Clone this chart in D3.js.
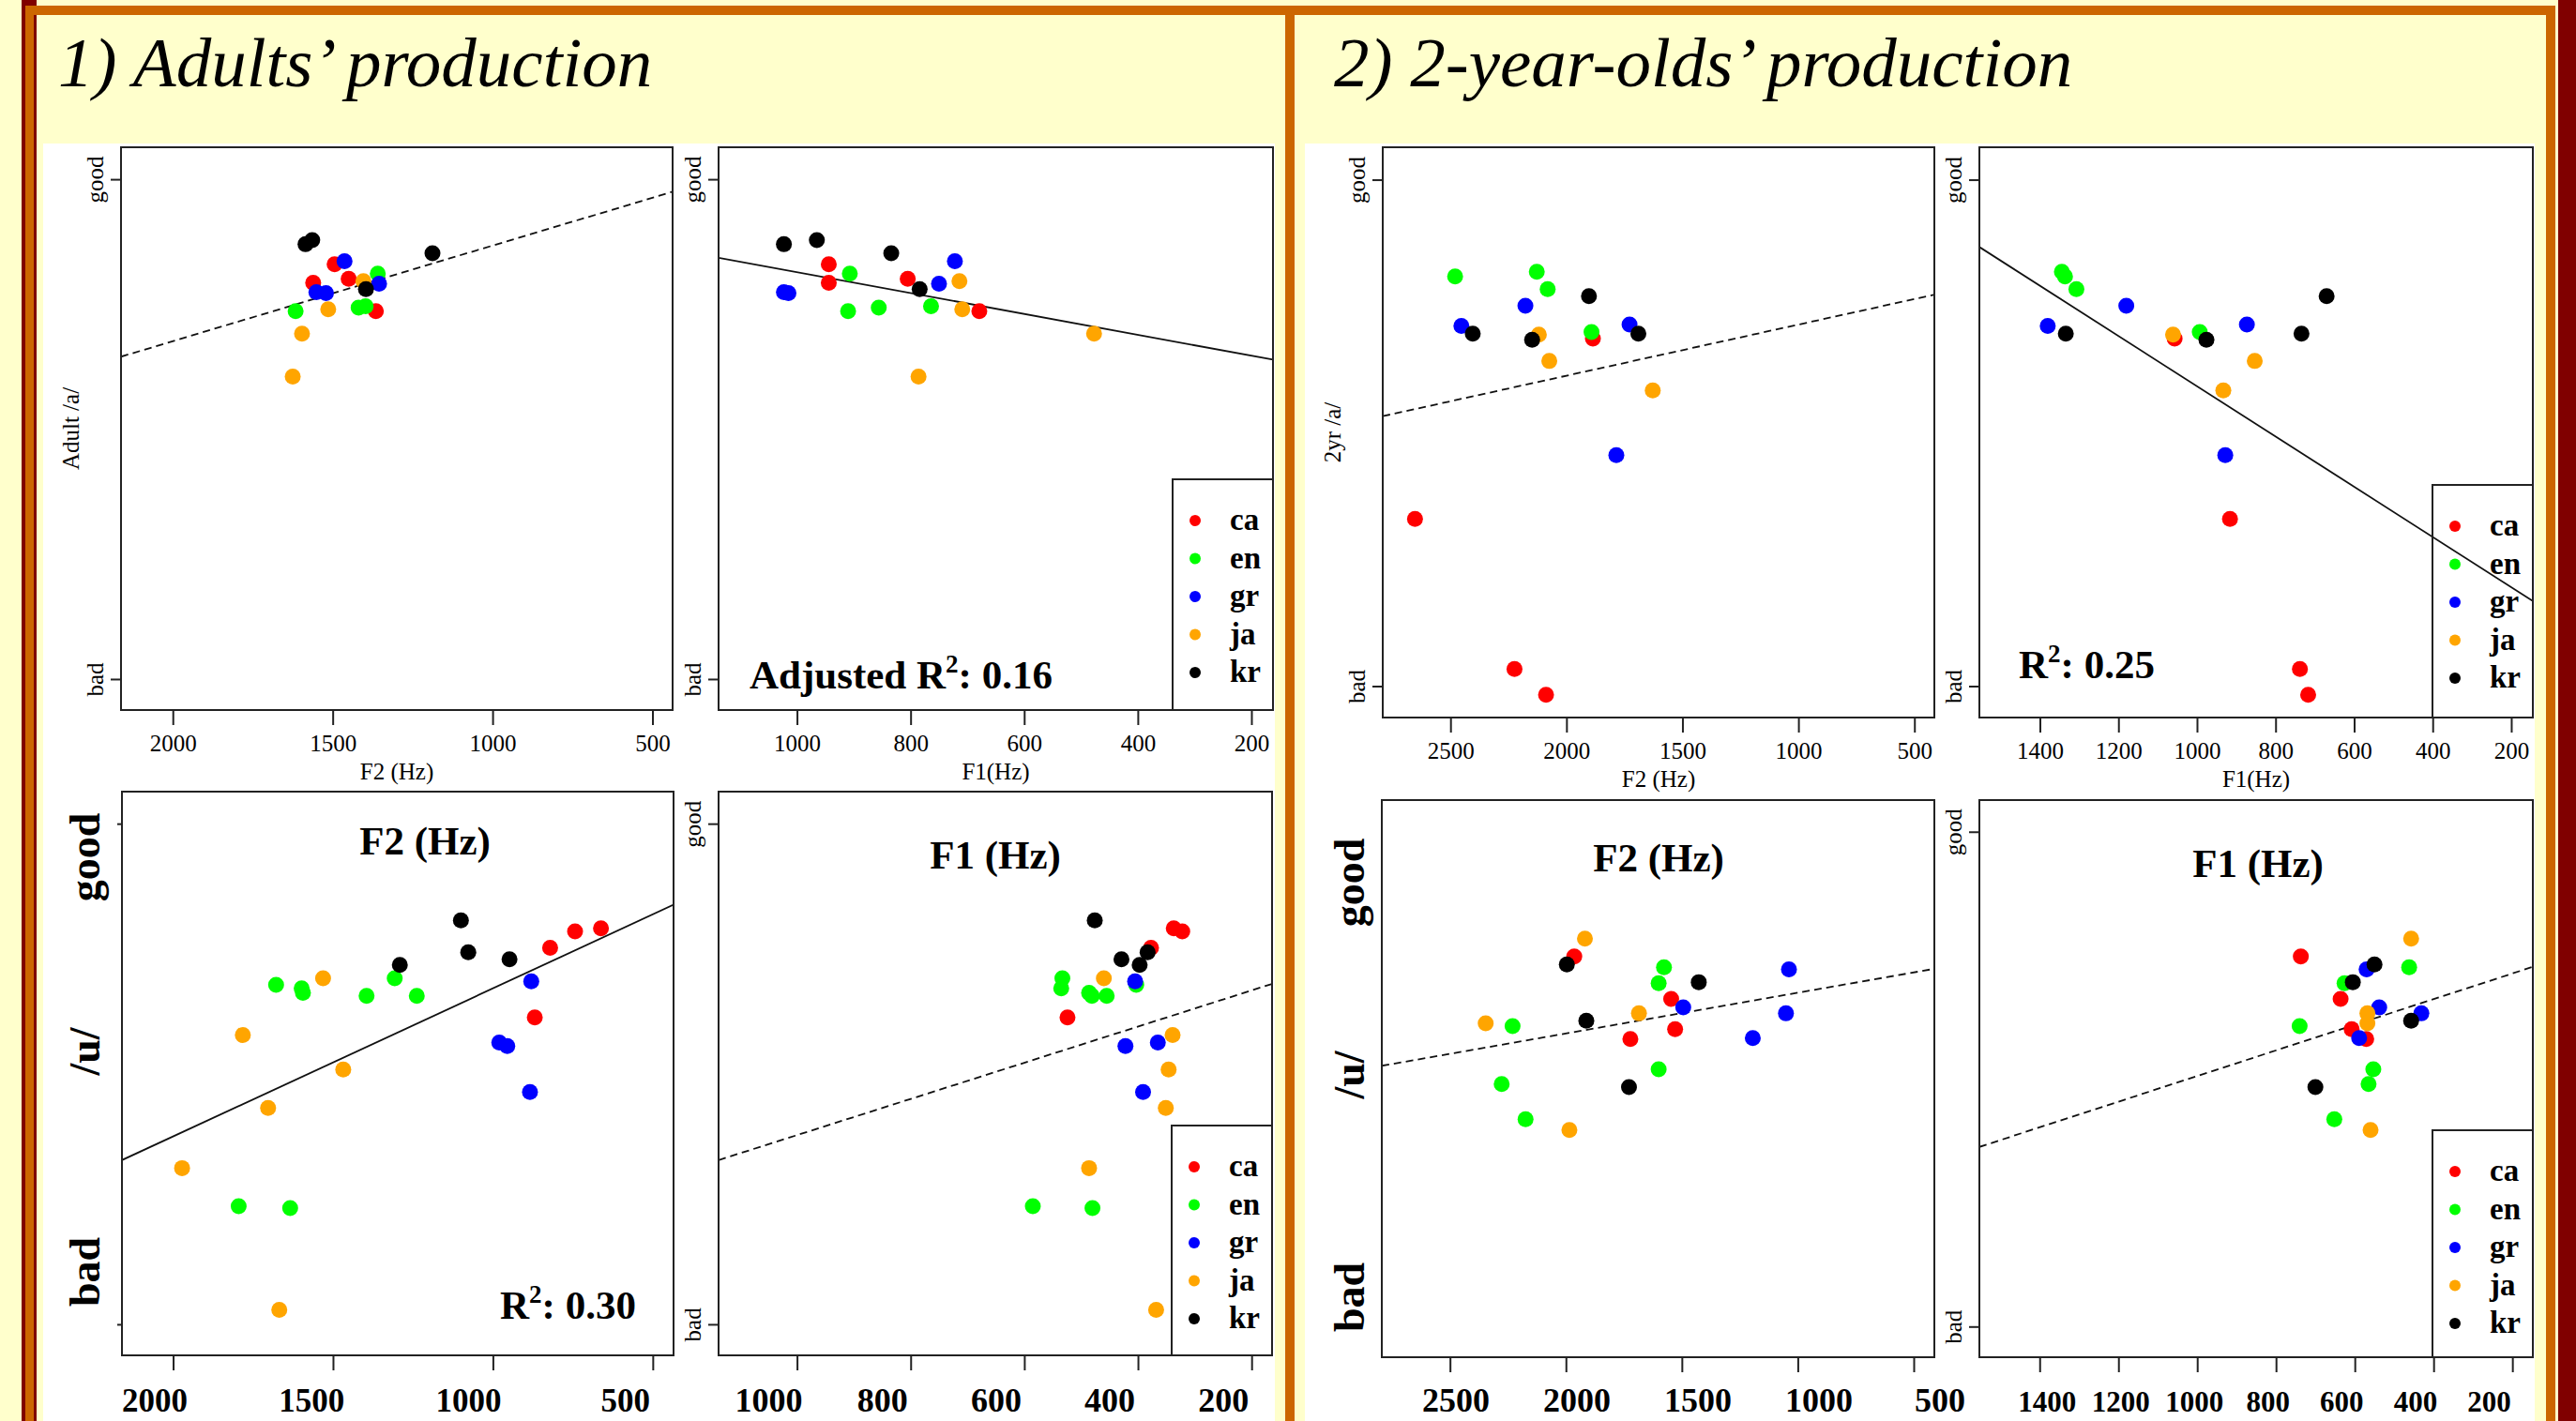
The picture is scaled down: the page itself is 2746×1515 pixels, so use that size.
<!DOCTYPE html>
<html>
<head>
<meta charset="utf-8">
<script src="https://cdn.jsdelivr.net/npm/d3@7"></script>
<style>
  body { margin: 0; background: #ffffcc; }
  svg { display: block; }
  text { font-family: "Liberation Serif", "Times New Roman", serif; fill: #000; }
</style>
</head>
<body>
<svg id="chart"></svg>
<script>
// ---- data ----
const languages = ["ca", "en", "gr", "ja", "kr"];
const languageColors = ["#ff0000", "#00ff00", "#0000ff", "#ffa500", "#000000"];

const yTickValues = [0, 1];
const yTickLabels = ["bad", "good"];
const bigYLabels = ["good", "/u/", "bad"];

const f2TicksAdult = [2000, 1500, 1000, 500];
const f1TicksAdult = [1000, 800, 600, 400, 200];
const f2TicksChild = [2500, 2000, 1500, 1000, 500];
const f1TicksChild = [1400, 1200, 1000, 800, 600, 400, 200];

// adults, vowel /a/
const adultA_lang   = ["ca","ca","ca","ca","en","en","en","en","gr","gr","gr","gr","ja","ja","ja","ja","kr","kr","kr","kr"];
const adultA_rating = [0.830,0.793,0.801,0.736, 0.811,0.736,0.743,0.746, 0.836,0.774,0.772,0.791, 0.796,0.740,0.691,0.605, 0.870,0.878,0.852,0.780];
const adultA_F2     = [1494,1561,1450,1365, 1359,1616,1419,1397, 1463,1551,1521,1355, 1404,1514,1596,1625, 1585,1564,1188,1396];
const adultA_F1     = [944,944,805,679, 907,910,856,764, 722,1023,1015,750, 714,709,477,786, 1023,965,834,784];

// adults, vowel /u/
const adultU_lang   = ["ca","ca","ca","ca","en","en","en","en","en","en","en","en","gr","gr","gr","gr","ja","ja","ja","ja","ja","ja","kr","kr","kr","kr"];
const adultU_rating = [0.791,0.785,0.752,0.613, 0.691,0.678,0.671,0.662,0.656,0.656,0.236,0.232, 0.685,0.563,0.556,0.464, 0.691,0.578,0.509,0.432,0.312,0.029, 0.807,0.743,0.729,0.718];
const adultU_F2     = [662,743,821,869, 1307,1678,1598,1594,1395,1238,1795,1634, 880,980,955,884, 1531,1782,1468,1703,1972,1668, 1100,1077,948,1291];
const adultU_F1     = [337,322,377,524, 533,403,535,486,481,455,585,480, 405,365,422,391, 460,339,346,351,486,368, 476,383,429,397];

// 2-year-olds, vowel /a/
const childA_lang   = ["ca","ca","ca","ca","en","en","en","en","gr","gr","gr","gr","ja","ja","ja","kr","kr","kr","kr"];
const childA_rating = [0.686,0.330,0.034,-0.017, 0.818,0.809,0.784,0.699, 0.751,0.711,0.714,0.456, 0.694,0.642,0.584, 0.696,0.684,0.770,0.696];
const childA_F2     = [1886,2653,2224,2088, 2128,2480,2081,1892, 2177,2453,1728,1785, 2119,2074,1628, 2404,2148,1903,1690];
const childA_F1     = [1057,916,738,717, 1344,1336,1307,993, 1180,1380,873,928, 1061,853,933, 1334,976,670,734];

// 2-year-olds, vowel /u/
const childU_lang   = ["ca","ca","ca","ca","en","en","en","en","en","en","gr","gr","gr","gr","ja","ja","ja","ja","kr","kr","kr","kr"];
const childU_rating = [0.748,0.662,0.601,0.581, 0.726,0.694,0.607,0.520,0.490,0.419, 0.722,0.645,0.633,0.583, 0.784,0.633,0.613,0.397, 0.732,0.696,0.618,0.484];
const childU_F2     = [1964,1546,1529,1722, 1577,1600,2230,1600,2277,2174, 1038,1494,1051,1194, 1918,1685,2346,1985, 1996,1427,1912,1728];
const childU_F1     = [737,636,608,571, 462,626,740,553,565,652, 570,538,431,589, 457,568,568,560, 550,605,457,700];

// fitted lines, as [F, rating] at both plot edges
const adultA_F2_fit = [[2162, 0.645], [437, 0.975]];
const adultA_F1_fit = [[1138, 0.843], [162, 0.639]];
const adultU_F2_fit = [[2160, 0.328], [435, 0.838]];
const adultU_F1_fit = [[1138, 0.328], [164, 0.680]];
const childA_F2_fit = [[2792, 0.533], [414, 0.773]];
const childA_F1_fit = [[1554, 0.867], [145, 0.168]];
const childU_F2_fit = [[2794, 0.527], [411, 0.723]];
const childU_F1_fit = [[1553, 0.363], [148, 0.727]];

// ---- layout ----
const W = 2746, H = 1515;
const yDomain = [-0.062, 1.064];
const color = d3.scaleOrdinal().domain(languages).range(languageColors);

const svg = d3.select("#chart").attr("width", W).attr("height", H);

// slide background, white figure areas and frame
svg.append("rect").attr("width", W).attr("height", H).attr("fill", "#ffffcc");
svg.append("rect").attr("x", 46).attr("y", 153).attr("width", 1313).attr("height", H - 153).attr("fill", "#fff");
svg.append("rect").attr("x", 1391).attr("y", 153).attr("width", 1311).attr("height", H - 153).attr("fill", "#fff");

svg.append("rect").attr("x", 23).attr("y", 0).attr("width", 16).attr("height", H).attr("fill", "#800000");
svg.append("rect").attr("x", 27).attr("y", 6).attr("width", 9).attr("height", H).attr("fill", "#cc6600");
svg.append("rect").attr("x", 27).attr("y", 6).attr("width", 2697).attr("height", 10).attr("fill", "#cc6600");
svg.append("rect").attr("x", 1370).attr("y", 6).attr("width", 10).attr("height", H).attr("fill", "#cc6600");
svg.append("rect").attr("x", 2714).attr("y", 6).attr("width", 10).attr("height", H).attr("fill", "#cc6600");
svg.append("rect").attr("x", 2727).attr("y", 0).attr("width", 19).attr("height", H).attr("fill", "#800000");

// panel titles
svg.append("text").attr("x", 62).attr("y", 92)
    .attr("font-size", 75).attr("font-style", "italic")
    .text("1) Adults’ production");
svg.append("text").attr("x", 1422).attr("y", 92)
    .attr("font-size", 75).attr("font-style", "italic")
    .text("2) 2-year-olds’ production");

const plots = [
    { id: "aF2", box: [129, 157, 717, 757], xDomain: [2162, 437], xs: adultA_F2, lang: adultA_lang, rating: adultA_rating,
      xTicks: f2TicksAdult, fit: adultA_F2_fit, dashed: true, xTitle: "F2 (Hz)", yTitle: "Adult /a/", yTick: 11, smallY: true },
    { id: "aF1", box: [766, 157, 1357, 757], xDomain: [1138, 162], xs: adultA_F1, lang: adultA_lang, rating: adultA_rating,
      xTicks: f1TicksAdult, fit: adultA_F1_fit, dashed: false, xTitle: "F1(Hz)", yTick: 11, smallY: true, legendTop: 511,
      notes: [{ pre: "Adjusted R", post: ": 0.16", x: 799, y: 734 }] },
    { id: "uF2", box: [130, 844, 718, 1445], xDomain: [2160, 435], xs: adultU_F2, lang: adultU_lang, rating: adultU_rating,
      xTicks: f2TicksAdult, fit: adultU_F2_fit, dashed: false, yTick: 5, bold: { k: 0.981, dx: -24, size: 35 },
      bigY: { x: 106, ys: [914, 1121, 1356] }, title: { text: "F2 (Hz)", x: 453, y: 911 },
      notes: [{ pre: "R", post: ": 0.30", x: 533, y: 1406 }] },
    { id: "uF1", box: [766, 844, 1356, 1445], xDomain: [1138, 164], xs: adultU_F1, lang: adultU_lang, rating: adultU_rating,
      xTicks: f1TicksAdult, fit: adultU_F1_fit, dashed: true, yTick: 11, smallY: true, bold: { k: 1, dx: -30, size: 36 },
      legendTop: 1200, title: { text: "F1 (Hz)", x: 1061, y: 926 } },
    { id: "cF2a", box: [1474, 157, 2062, 765], xDomain: [2792, 414], xs: childA_F2, lang: childA_lang, rating: childA_rating,
      xTicks: f2TicksChild, fit: childA_F2_fit, dashed: true, xTitle: "F2 (Hz)", yTitle: "2yr /a/", yTick: 11, smallY: true },
    { id: "cF1a", box: [2110, 157, 2700, 765], xDomain: [1554, 145], xs: childA_F1, lang: childA_lang, rating: childA_rating,
      xTicks: f1TicksChild, fit: childA_F1_fit, dashed: false, xTitle: "F1(Hz)", yTick: 11, smallY: true, legendTop: 517,
      notes: [{ pre: "R", post: ": 0.25", x: 2152, y: 723 }] },
    { id: "cF2u", box: [1473, 853, 2062, 1447], xDomain: [2794, 411], xs: childU_F2, lang: childU_lang, rating: childU_rating,
      xTicks: f2TicksChild, fit: childU_F2_fit, dashed: true, yTick: 0, bold: { k: 1.044, dx: 16, size: 36 },
      bigY: { x: 1454, ys: [941, 1146, 1383] }, title: { text: "F2 (Hz)", x: 1768, y: 929 } },
    { id: "cF1u", box: [2110, 853, 2700, 1447], xDomain: [1553, 148], xs: childU_F1, lang: childU_lang, rating: childU_rating,
      xTicks: f1TicksChild, fit: childU_F1_fit, dashed: true, yTick: 11, smallY: true, bold: { k: 0.935, dx: -7, size: 31 },
      legendTop: 1205, title: { text: "F1 (Hz)", x: 2407, y: 935 } }
];

function drawPlot(p) {
    const [left, top, right, bottom] = p.box;
    const x = d3.scaleLinear().domain(p.xDomain).range([left, right]);
    const y = d3.scaleLinear().domain(yDomain).range([bottom, top]);
    const g = svg.append("g").attr("class", "plot-" + p.id);

    g.append("clipPath").attr("id", "clip-" + p.id)
        .append("rect")
        .attr("x", left).attr("y", top)
        .attr("width", right - left).attr("height", bottom - top);

    // regression line
    g.append("line")
        .attr("clip-path", `url(#clip-${p.id})`)
        .attr("x1", x(p.fit[0][0])).attr("y1", y(p.fit[0][1]))
        .attr("x2", x(p.fit[1][0])).attr("y2", y(p.fit[1][1]))
        .attr("stroke", "#111")
        .attr("stroke-width", 1.8)
        .attr("stroke-dasharray", p.dashed ? "8,5" : null);

    // speakers
    const pts = p.lang.map((l, i) => ({ lang: l, f: p.xs[i], r: p.rating[i] }));
    g.append("g")
        .attr("clip-path", `url(#clip-${p.id})`)
        .selectAll("circle")
        .data(pts)
        .join("circle")
        .attr("cx", d => x(d.f))
        .attr("cy", d => y(d.r))
        .attr("r", 8.5)
        .attr("fill", d => color(d.lang));

    // frame
    g.append("rect")
        .attr("x", left).attr("y", top)
        .attr("width", right - left).attr("height", bottom - top)
        .attr("fill", "none").attr("stroke", "#222").attr("stroke-width", 2);

    // x axis
    const ax = g.append("g")
        .attr("transform", `translate(0,${bottom})`)
        .call(d3.axisBottom(x)
            .tickValues(p.xTicks)
            .tickSize(16)
            .tickSizeOuter(0)
            .tickPadding(10)
            .tickFormat(p.bold ? () => "" : d3.format("d")));
    ax.select(".domain").remove();
    ax.attr("font-size", 25).attr("font-family", null);
    ax.selectAll("line").attr("stroke", "#222").attr("stroke-width", 2);
    ax.selectAll("text").attr("fill", "#111");

    if (p.bold) {
        const cx = (left + right) / 2;
        g.selectAll("text.boldtick")
            .data(p.xTicks)
            .join("text")
            .attr("class", "boldtick")
            .attr("x", d => cx + p.bold.k * (x(d) - cx) + p.bold.dx)
            .attr("y", 1505)
            .attr("text-anchor", "middle")
            .attr("font-weight", "bold")
            .attr("font-size", p.bold.size)
            .text(d => d);
    }

    // y axis
    const ay = g.append("g")
        .attr("transform", `translate(${left},0)`)
        .call(d3.axisLeft(y)
            .tickValues(yTickValues)
            .tickSize(p.yTick)
            .tickSizeOuter(0)
            .tickFormat((d, i) => p.smallY ? yTickLabels[i] : ""));
    ay.select(".domain").remove();
    ay.attr("font-size", 25).attr("font-family", null);
    ay.selectAll("line").attr("stroke", "#222").attr("stroke-width", 2);
    ay.selectAll(".tick text")
        .attr("x", 0).attr("dy", 0)
        .attr("fill", "#111")
        .attr("text-anchor", "middle")
        .attr("transform", "translate(-19,0) rotate(-90)");

    if (p.xTitle) {
        g.append("text")
            .attr("x", (left + right) / 2).attr("y", bottom + 74)
            .attr("text-anchor", "middle").attr("font-size", 25).attr("fill", "#111")
            .text(p.xTitle);
    }
    if (p.yTitle) {
        g.append("text")
            .attr("transform", `translate(${left - 45},${(top + bottom) / 2}) rotate(-90)`)
            .attr("text-anchor", "middle").attr("font-size", 25).attr("fill", "#111")
            .text(p.yTitle);
    }

    if (p.bigY) {
        g.selectAll("text.bigy")
            .data(bigYLabels)
            .join("text")
            .attr("class", "bigy")
            .attr("transform", (d, i) => `translate(${p.bigY.x},${p.bigY.ys[i]}) rotate(-90)`)
            .attr("text-anchor", "middle")
            .attr("font-weight", "bold")
            .attr("font-size", 46)
            .text(d => d);
    }

    if (p.title) {
        g.append("text")
            .attr("x", p.title.x).attr("y", p.title.y)
            .attr("text-anchor", "middle")
            .attr("font-weight", "bold").attr("font-size", 43)
            .text(p.title.text);
    }

    (p.notes || []).forEach(n => {
        const t = g.append("text")
            .attr("x", n.x).attr("y", n.y)
            .attr("font-weight", "bold").attr("font-size", 43);
        t.append("tspan").text(n.pre);
        t.append("tspan").attr("dy", -17).attr("font-size", 27).text("2");
        t.append("tspan").attr("dy", 17).text(n.post);
    });

    if (p.legendTop) {
        const lx = right - 107;
        const lg = g.append("g");
        lg.append("rect")
            .attr("x", lx).attr("y", p.legendTop)
            .attr("width", right - lx).attr("height", bottom - p.legendTop)
            .attr("fill", "none").attr("stroke", "#222").attr("stroke-width", 2);
        const rows = lg.selectAll("g.row")
            .data(languages)
            .join("g")
            .attr("class", "row")
            .attr("transform", (d, i) => `translate(${lx},${p.legendTop + 44 + i * 40.5})`);
        rows.append("circle").attr("cx", 24).attr("cy", 0).attr("r", 6).attr("fill", d => color(d));
        rows.append("text").attr("x", 61).attr("y", 10)
            .attr("font-size", 33).attr("font-weight", "bold")
            .text(d => d);
    }
}

plots.forEach(drawPlot);
</script>
</body>
</html>
